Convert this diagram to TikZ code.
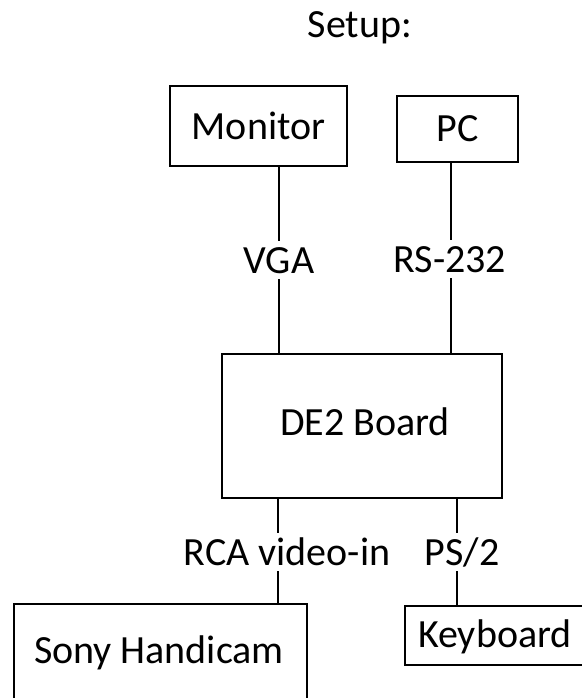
\documentclass[tikz,border=0pt]{standalone}
\usepackage{fontspec}
\setmainfont{Carlito}
\begin{document}
\begin{tikzpicture}[x=1pt,y=-1pt,
  box/.style={draw, line width=1.6pt, rectangle, inner sep=0pt, font=\fontsize{40}{40}\selectfont},
  lbl/.style={font=\fontsize{40}{40}\selectfont, text height=26pt, text depth=0pt, inner xsep=0pt, inner ysep=6pt, anchor=base},
  txt/.style={font=\fontsize{40}{40}\selectfont, inner sep=0pt},
  wire/.style={line width=1.6pt}]
\useasboundingbox (0,0) rectangle (581,698);

\node[txt, anchor=base] (setup) at (360,38) {Setup:};

\node[box, minimum width=177pt, minimum height=80pt] (monitor) at (258.5,126) {Monitor};
\node[box, minimum width=121pt, minimum height=66pt] (pc) at (457.5,129) {PC};
\node[box, minimum width=280pt, minimum height=144pt] (de2) at (362,426) {};
\node[txt, anchor=base] (de2t) at (365,435) {DE2 Board};
\node[box, minimum width=293pt, minimum height=116pt] (sony) at (160.5,662) {};
\node[txt, anchor=base] (sonyt) at (159,663) {Sony Handicam};
\node[box, minimum width=195pt, minimum height=59pt] (kbd) at (502.5,635.5) {};
\node[txt, anchor=base west] (kbdt) at (418,647) {Keyboard};

\node[lbl] (vga) at (279,273) {VGA};
\node[lbl] (rs) at (450,272) {RS-232};
\node[lbl] (rca) at (287,565) {RCA video-in};
\node[lbl] (ps) at (462,565) {PS/2};

\coordinate (c1) at (279,0);
\coordinate (c2) at (451,0);
\coordinate (c3) at (278,0);
\coordinate (c4) at (457,0);

\draw[wire] (monitor.south -| c1) -- (vga.north -| c1);
\draw[wire] (vga.south -| c1) -- (de2.north -| c1);
\draw[wire] (pc.south -| c2) -- (rs.north -| c2);
\draw[wire] (rs.south -| c2) -- (de2.north -| c2);
\draw[wire] (de2.south -| c3) -- (rca.north -| c3);
\draw[wire] (rca.south -| c3) -- (sony.north -| c3);
\draw[wire] (de2.south -| c4) -- (ps.north -| c4);
\draw[wire] (ps.south -| c4) -- (kbd.north -| c4);
\end{tikzpicture}
\end{document}
